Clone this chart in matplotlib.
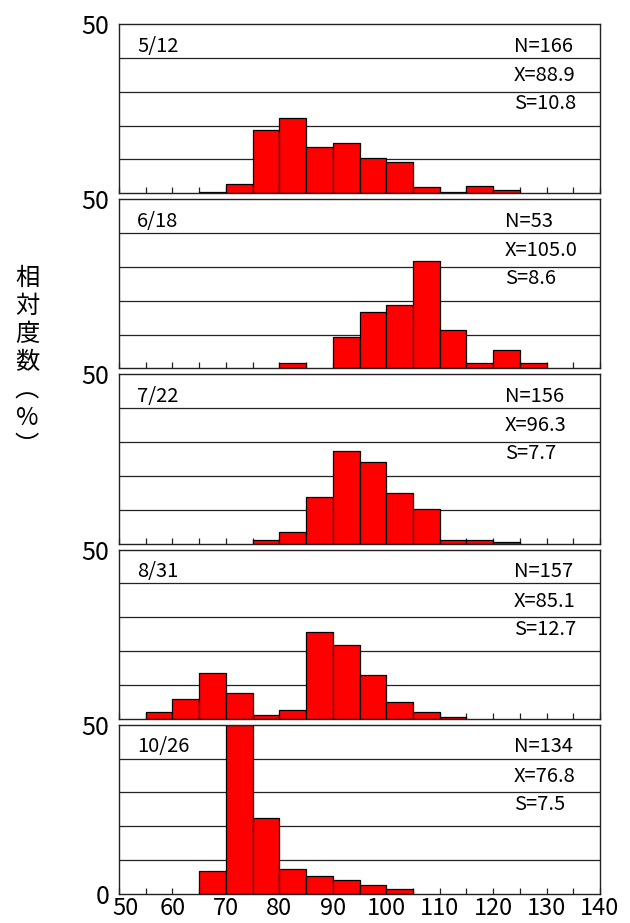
import matplotlib
matplotlib.use('Agg')
import matplotlib.pyplot as plt
import matplotlib.transforms as mtransforms
import numpy as np

plt.rcParams['font.family'] = ['Noto Sans CJK JP', 'DejaVu Sans']

# ---- データ（5 cm 階級, 50〜140）----
bin_left = np.arange(50, 140, 5)
dates = ['5/12', '6/18', '7/22', '8/31', '10/26']
n_vals = ['N=166', 'N=53', 'N=156', 'N=157', 'N=134']
x_vals = ['X=88.9', 'X=105.0', 'X=96.3', 'X=85.1', 'X=76.8']
s_vals = ['S=10.8', 'S=8.6', 'S=7.7', 'S=12.7', 'S=7.5']

#        50   55   60   65    70    75    80    85    90    95   100  105  110  115  120  125  130  135
freq_0512 = [0, 0, 0, 0.5, 2.7, 18.6, 22.2, 13.8, 14.9, 10.5, 9.3, 1.7, 0.5, 2.1, 1.0, 0, 0, 0]
freq_0618 = [0, 0, 0, 0, 0, 0, 1.6, 0, 9.4, 16.8, 18.8, 31.8, 11.2, 1.6, 5.4, 1.6, 0, 0]
freq_0722 = [0, 0, 0, 0, 0, 1.0, 3.5, 13.9, 27.5, 24.2, 15.0, 10.2, 1.0, 1.0, 0.4, 0, 0, 0]
freq_0831 = [0, 2.1, 5.9, 13.4, 7.6, 1.2, 2.6, 25.6, 21.8, 12.9, 5.0, 2.1, 0.6, 0, 0, 0, 0, 0]
freq_1026 = [0, 0, 0, 6.7, 50.0, 22.5, 7.5, 5.2, 4.1, 2.8, 1.5, 0, 0, 0, 0, 0, 0, 0]
freqs = [freq_0512, freq_0618, freq_0722, freq_0831, freq_1026]

x_ticklabels = ['50', '60', '70', '80', '90', '100', '110', '120', '130', '140']

# 統計値テキストの左端（データ座標）
stat_x = [123.9, 122.2, 122.2, 123.9, 123.9]

W, H = 630, 923
fig = plt.figure(figsize=(W / 100, H / 100), dpi=100)

left, right = 119, 600
top, bottom = 24, 894
gap = 6
ph = (bottom - top - gap * 4) / 5

axes = []
for i in range(5):
    y_top = top + i * (ph + gap)
    ax = fig.add_axes([left / W, 1 - (y_top + ph) / H, (right - left) / W, ph / H])
    axes.append(ax)

    f = np.array(freqs[i])
    m = f > 0
    ax.bar(bin_left[m], f[m], width=5, align='edge', color='#ff0000',
           edgecolor='black', linewidth=0.9, zorder=3)

    for g in (10, 20, 30, 40):
        ax.axhline(g, color='#222222', linewidth=0.9, zorder=1)

    ax.set_xlim(50, 140)
    ax.set_ylim(0, 50)
    for sp in ax.spines.values():
        sp.set_linewidth(1.0)
        sp.set_color('#222222')
        sp.set_zorder(4)

    ax.set_xticks(np.arange(50, 145, 5))
    ax.tick_params(axis='x', direction='in', length=4.5, width=0.9,
                   color='#222222', pad=2)
    ax.tick_params(axis='y', length=0, labelsize=18, pad=7)
    if i < 4:
        ax.set_xticklabels([])
        ax.set_yticks([50])
        ax.set_yticklabels(['50'])
    else:
        labels = [x_ticklabels[k // 2] if k % 2 == 0 else '' for k in range(19)]
        ax.set_xticklabels(labels, fontsize=17)
        ax.set_yticks([0, 50])
        ax.set_yticklabels(['0', '50'])
        # 左端の "50" は少し右へ（縦軸の "0" と重ならないように）
        lab0 = ax.xaxis.get_major_ticks()[0].label1
        lab0.set_transform(lab0.get_transform() +
                           mtransforms.ScaledTranslation(6 / 100, 0, fig.dpi_scale_trans))

    ax.text(53.4, 0.869, dates[i], transform=ax.get_xaxis_transform(),
            fontsize=14.5, va='center', ha='left')
    for txt, yf in zip((n_vals[i], x_vals[i], s_vals[i]), (0.869, 0.696, 0.530)):
        ax.text(stat_x[i], yf, txt, transform=ax.get_xaxis_transform(),
                fontsize=14.5, va='center', ha='left')

# 縦書きの軸ラベル
fig.text(27 / W, 1 - 362 / H, '相\n対\n度\n数\n︵\n%\n︶', fontsize=17.5,
         ha='center', va='center', linespacing=1.1)

fig.savefig('out.png', dpi=100)
